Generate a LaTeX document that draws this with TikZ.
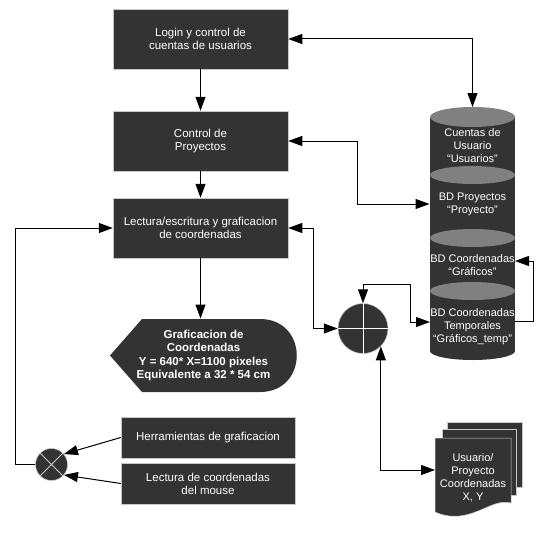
\documentclass[tikz,border=0pt]{standalone}
\usepackage{fontspec}
\setmainfont{Liberation Sans}
\usetikzlibrary{arrows.meta,calc}
\definecolor{boxgray}{RGB}{51,51,51}
\definecolor{ellgray}{RGB}{128,128,128}
\definecolor{edgegray}{RGB}{200,200,200}

\begin{document}
\begin{tikzpicture}[x=1pt,y=-1pt,
    >={Triangle[length=14pt,width=10pt]},
    line width=1pt,
    box/.style={fill=boxgray,draw=edgegray,line width=0.5pt,text=white,align=center,
        minimum width=175pt,minimum height=60pt,inner sep=0pt,
        font=\fontsize{11.5}{13}\selectfont},
    smallbox/.style={box,minimum width=174pt,minimum height=41pt},
    dbtext/.style={text=white,align=center,minimum width=85pt,inner sep=0pt,
        font=\fontsize{11}{13}\selectfont},
    junction/.style={circle,fill=boxgray,draw=edgegray,line width=0.5pt,inner sep=0pt}]
\useasboundingbox (0,0) rectangle (556,535);

% main process boxes
\node[box] (login) at (200.5,39) {Login y control de\\cuentas de usuarios};
\node[box] (ctrl) at (200.5,141) {Control de\\ Proyectos};
\node[box] (lect) at (200.5,228) {Lectura/escritura y graficacion\\de coordenadas};

% display shape
\fill[boxgray] (110,355.5) -- (142,319) -- (260,319)
    .. controls (309,319) and (309,392) .. (260,392) -- (142,392) -- cycle;
\node[text=white,align=center,inner sep=0pt,minimum width=187pt,minimum height=73pt,
    font=\bfseries\fontsize{11.5}{13.3}\selectfont] (graf) at (203.5,355.5)
    {Graficacion de\\Coordenadas\\Y = 640* X=1100 pixeles\\Equivalente a 32 * 54 cm};

% tool boxes
\node[smallbox] (herr) at (208,437.5) {Herramientas de graficacion};
\node[smallbox] (mouse) at (208,483.5) {Lectura de coordenadas\\del mouse};

% database cylinder
\fill[boxgray] (430,117) rectangle (515,351);
\fill[boxgray] (472.5,351) ellipse [x radius=42.5pt,y radius=9pt];
\fill[ellgray] (472.5,117) ellipse [x radius=42.5pt,y radius=10pt];
\foreach \y in {175,238,291}
    \fill[ellgray] (472.5,\y) ellipse [x radius=42.5pt,y radius=9pt];
\node[dbtext] (cuentas) at (472.5,146) {Cuentas de\\Usuario\\“Usuarios”};
\node[dbtext] (bdproy) at (472.5,204) {BD Proyectos\\“Proyecto”};
\node[dbtext] (bdcoord) at (472.5,265) {BD Coordenadas\\“Gráficos”};
\node[dbtext] (bdtemp) at (472.5,327) {BD Coordenadas\\Temporales\\“Gráficos\_temp”};
\coordinate (cyltop) at (472.5,107);
\coordinate (coordin) at (515,261);
\coordinate (tempout) at (515,321);
\coordinate (tempin) at (430,322);

% document stack
\filldraw[fill=boxgray,draw=edgegray,line width=0.5pt] (447,422) rectangle (522,487);
\filldraw[fill=boxgray,draw=edgegray,line width=0.5pt] (442,429) rectangle (516,495);
\filldraw[fill=boxgray,draw=edgegray,line width=0.5pt] (435,438) -- (511,438) -- (511,503)
    .. controls (490,497) and (470,527) .. (435,512) -- cycle;
\node[dbtext,minimum width=76pt] (doc) at (473,478) {Usuario/\\Proyecto\\Coordenadas\\X, Y};
\coordinate (docin) at (435,470);

% junctions
\node[junction,minimum size=50pt] (plus) at (363,328.5) {};
\draw[white,line width=0.8pt] (plus.north) -- (plus.south) (plus.west) -- (plus.east);
\node[junction,minimum size=32pt] (xc) at (51.5,464.5) {};
\draw[edgegray,line width=0.8pt] (xc.north west) -- (xc.south east)
    (xc.north east) -- (xc.south west);

% connectors
\draw[->] (login.south) -- (ctrl.north);
\draw[->] (ctrl.south) -- (lect.north);
\draw[->] (lect.south) -- (lect.south |- graf.north);
\draw[<->] (login.east) -| (cyltop);
\draw[<->] (ctrl.east) -- ++(69,0) |- (bdproy.west);
\draw[<->] (lect.east) -- ++(25,0) |- (plus.west);
\draw[<->] (plus.north) -- ++(0,-19) -| ($(tempin)+(-20,0)$) -- (tempin);
\draw[->] (tempout) -- ++(18,0) |- (coordin);
\draw[<->] (plus.-45) |- (docin);
\draw[->] (xc.west) -- ++(-19.5,0) |- (lect.west);
\draw[->] (herr.west) -- (xc.40);
\draw[->] (mouse.west) -- (xc.-40);
\end{tikzpicture}
\end{document}
